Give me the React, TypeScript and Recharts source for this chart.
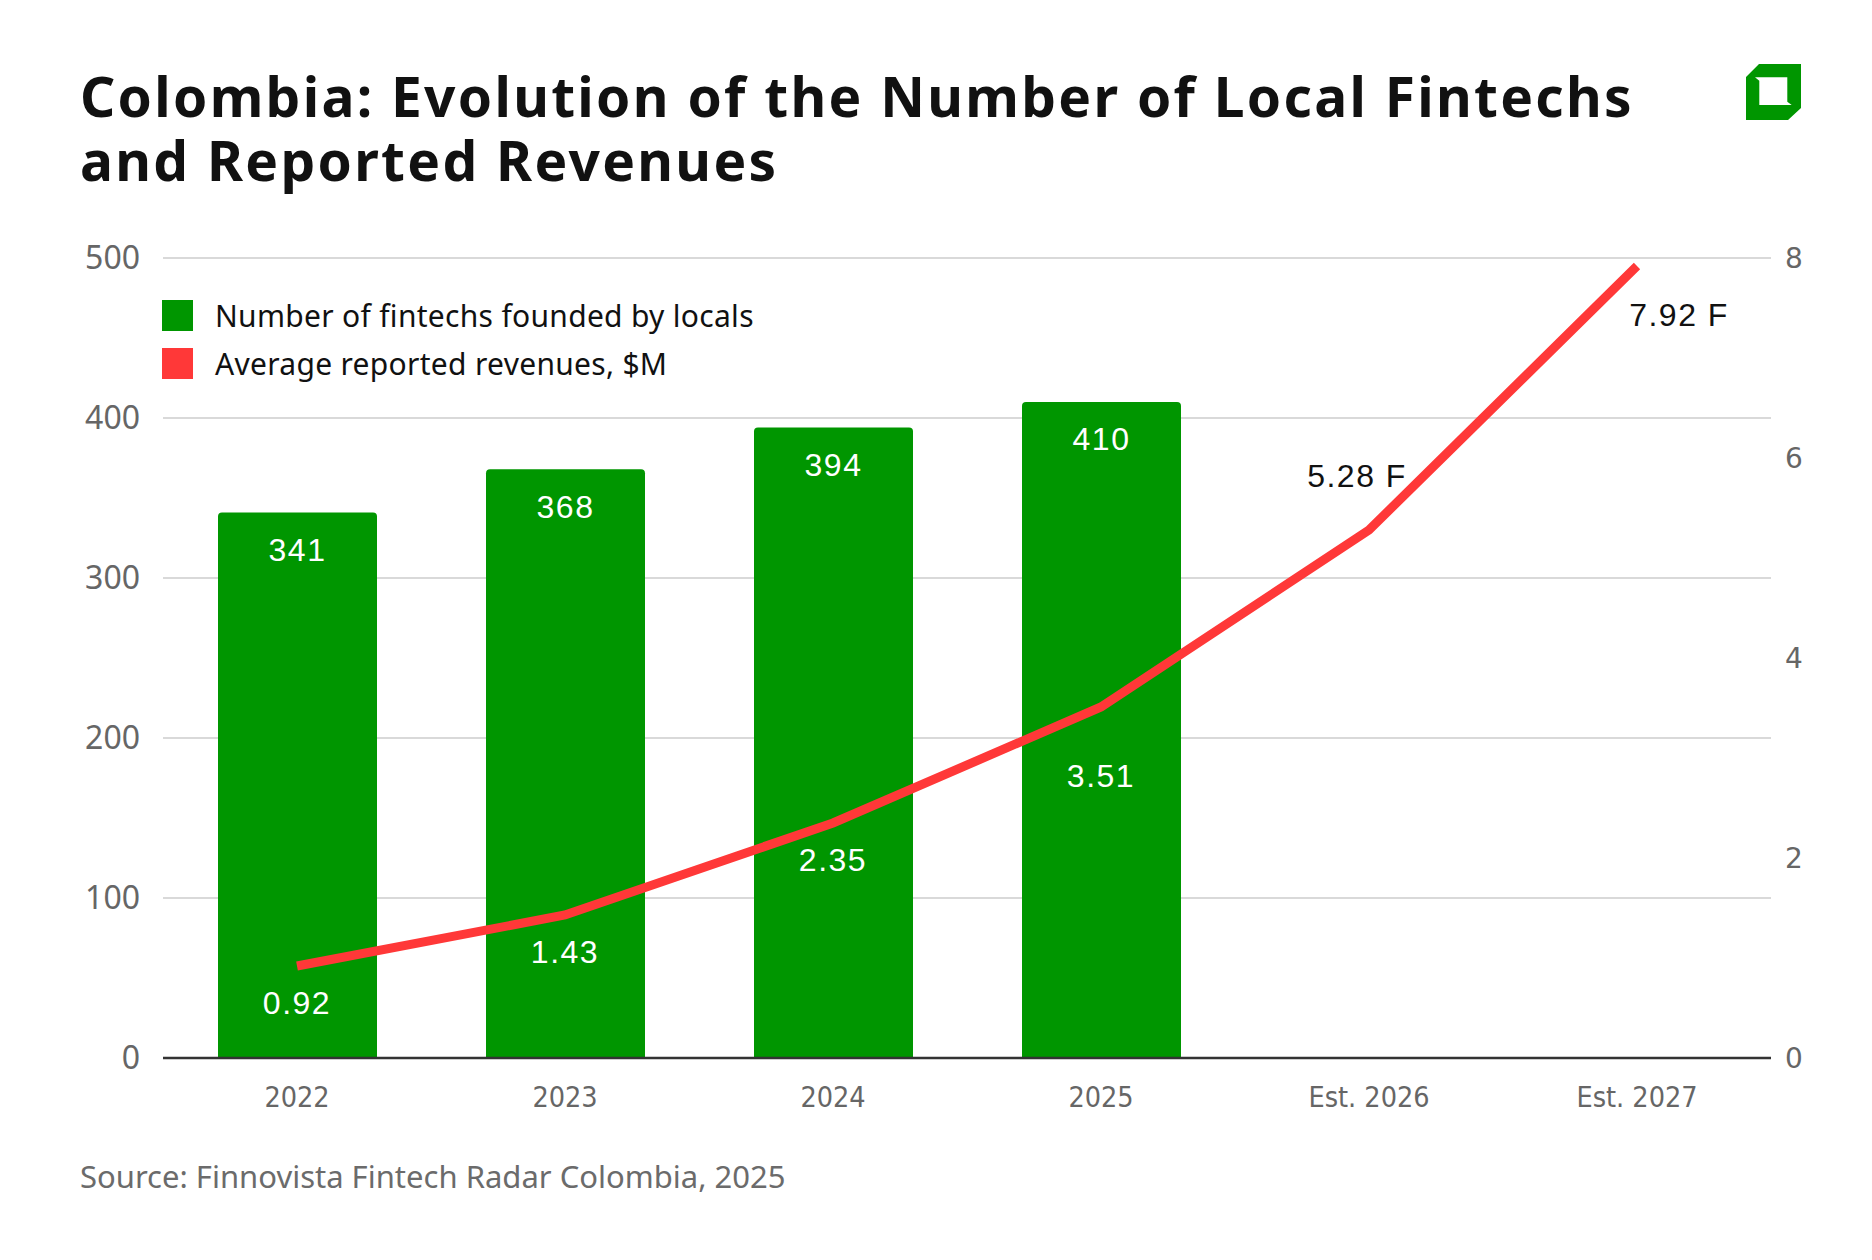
import React from 'react'
import {
  ComposedChart,
  Bar,
  Line,
  XAxis,
  YAxis,
  CartesianGrid,
  LabelList,
} from 'recharts'

const years = ['2022', '2023', '2024', '2025', 'Est. 2026', 'Est. 2027']
const fintechCounts = [341, 368, 394, 410, null, null]
const avgRevenues = [0.92, 1.43, 2.35, 3.51, 5.28, 7.92]
const countTicks = [0, 100, 200, 300, 400, 500]
const revenueTicks = [0, 2, 4, 6, 8]

const GREEN = '#009600'
const RED = '#ff3838'
const SANS = '"Noto Sans", "Open Sans", sans-serif'
const LABEL_FONT = '"Liberation Sans", Arial, sans-serif'

const data = years.map((year, i) => ({
  year,
  fintechs: fintechCounts[i],
  revenue: avgRevenues[i],
}))

const BarValueLabel = (props: any) => {
  const { x, y, width, value } = props
  if (value == null) return null
  return (
    <text
      x={x + width / 2}
      y={y + 40}
      textAnchor="middle"
      dominantBaseline="middle"
      fill="#fff"
      fontFamily={LABEL_FONT}
      fontSize={32}
      letterSpacing={1.5}
    >
      {value}
    </text>
  )
}

// forecast labels sit beside the line in black, actuals sit under it in white
const RevenueLabel = (props: any) => {
  const { x, y, value, index } = props
  const isForecast = years[index].startsWith('Est.')
  let dx = 0
  let dy = index === 3 ? 72 : 40
  if (index === 4) {
    dx = -12
    dy = -51
  } else if (index === 5) {
    dx = 42
    dy = 52
  }
  return (
    <text
      x={x + dx}
      y={y + dy}
      textAnchor="middle"
      dominantBaseline="middle"
      fill={isForecast ? '#111' : '#fff'}
      fontFamily={LABEL_FONT}
      fontSize={32}
      letterSpacing={1.5}
    >
      {isForecast ? `${value} F` : value}
    </text>
  )
}

const Logo = () => (
  <svg
    width={1872}
    height={140}
    style={{ position: 'absolute', left: 0, top: 0 }}
  >
    <path
      fillRule="evenodd"
      fill={GREEN}
      d="M1759 64 L1801 64 L1801 108 L1788 120 L1746 120 L1746 77 Z M1755 77.3 L1787.3 77.3 L1787.3 101.7 L1791.7 105 L1759.3 105 L1759.3 80.7 Z"
    />
  </svg>
)

const legendItems = [
  { label: 'Number of fintechs founded by locals', color: GREEN },
  { label: 'Average reported revenues, $M', color: RED },
]

export default function App() {
  return (
    <div
      style={{
        position: 'absolute',
        left: 0,
        top: 0,
        width: 1872,
        height: 1260,
        background: '#fff',
        overflow: 'hidden',
      }}
    >
      <div
        style={{
          position: 'absolute',
          left: 80,
          top: 64,
          fontFamily: SANS,
          fontWeight: 700,
          fontSize: 55,
          lineHeight: '64px',
          color: '#111',
          letterSpacing: 2.3,
          whiteSpace: 'nowrap',
        }}
      >
        Colombia: Evolution of the Number of Local Fintechs
        <br />
        and Reported Revenues
      </div>
      <Logo />

      <ComposedChart
        width={1872}
        height={1260}
        data={data}
        margin={{ top: 258, right: 0, left: 0, bottom: 142 }}
        style={{ position: 'absolute', left: 0, top: 0 }}
      >
        <CartesianGrid
          yAxisId="left"
          vertical={false}
          stroke="#cccccc"
          strokeWidth={1.5}
        />
        <XAxis
          dataKey="year"
          height={60}
          tickLine={false}
          axisLine={{ stroke: '#333', strokeWidth: 2.5 }}
          tickMargin={23}
          tick={{
            fill: '#666',
            fontSize: 28.5,
            fontFamily: '"DejaVu Sans Condensed", "DejaVu Sans", sans-serif',
            fontStretch: 'condensed',
          }}
          interval={0}
        />
        <YAxis
          yAxisId="left"
          width={163}
          domain={[0, 500]}
          ticks={countTicks}
          axisLine={false}
          tickLine={false}
          tickMargin={17}
          tick={{ fill: '#666', fontSize: 32, fontFamily: SANS }}
        />
        <YAxis
          yAxisId="right"
          orientation="right"
          width={101}
          domain={[0, 8]}
          ticks={revenueTicks}
          axisLine={false}
          tickLine={false}
          tickMargin={8}
          tick={{
            fill: '#666',
            fontSize: 28,
            fontFamily: '"DejaVu Sans", sans-serif',
            textAnchor: 'start',
          }}
        />
        <Bar
          yAxisId="left"
          dataKey="fintechs"
          fill={GREEN}
          barSize={159}
          radius={[4, 4, 0, 0]}
          isAnimationActive={false}
        >
          <LabelList dataKey="fintechs" content={<BarValueLabel />} />
        </Bar>
        <Line
          yAxisId="right"
          type="linear"
          dataKey="revenue"
          stroke={RED}
          strokeWidth={9}
          dot={false}
          activeDot={false}
          isAnimationActive={false}
        >
          <LabelList dataKey="revenue" content={<RevenueLabel />} />
        </Line>
      </ComposedChart>

      <div style={{ position: 'absolute', left: 162, top: 291 }}>
        {legendItems.map((item) => (
          <div
            key={item.label}
            style={{
              display: 'flex',
              alignItems: 'center',
              height: 48,
              fontFamily: SANS,
              fontSize: 30,
              letterSpacing: 0.3,
              color: '#111',
            }}
          >
            <span
              style={{
                width: 31,
                height: 31,
                background: item.color,
                marginRight: 22,
                display: 'inline-block',
              }}
            />
            <span>{item.label}</span>
          </div>
        ))}
      </div>

      <div
        style={{
          position: 'absolute',
          left: 80,
          top: 1155,
          fontFamily: SANS,
          fontSize: 31,
          color: '#6b6b6b',
        }}
      >
        Source: Finnovista Fintech Radar Colombia, 2025
      </div>
    </div>
  )
}
